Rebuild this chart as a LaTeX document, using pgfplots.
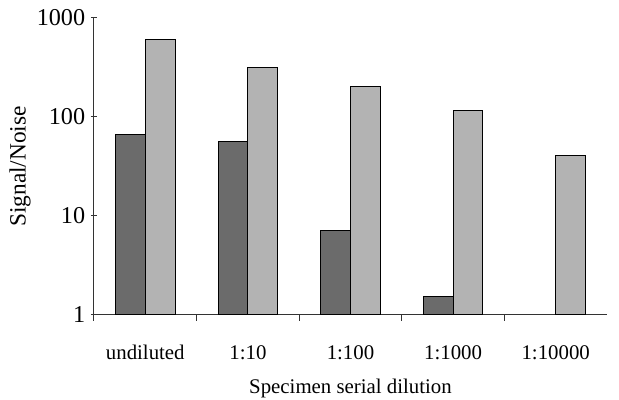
\documentclass[border=0pt]{standalone}
\usepackage{pgfplots}
\pgfplotsset{compat=1.18}
\usepackage{fontspec}
\setmainfont{Liberation Serif}
\definecolor{darkbar}{HTML}{6B6B6B}
\definecolor{lightbar}{HTML}{B3B3B3}
\definecolor{axisc}{HTML}{333333}

\begin{document}
\begin{tikzpicture}
  \useasboundingbox (-56.4pt,-51pt) rectangle (315pt,189pt);
  \begin{axis}[
      scale only axis, width=307.8pt, height=178.2pt,
      anchor=south west, at={(0,0)},
      ymode=log, ymin=1, ymax=1000, log origin=infty,
      ytick={1,10,100,1000}, yticklabels={1,10,100,1000},
      yminorticks=false,
      xmin=-0.5, xmax=4.5,
      xtick={0,1,2,3,4},
      xticklabels={undiluted,1:10,1:100,1:1000,1:10000},
      minor xtick={-0.5,0.5,1.5,2.5,3.5},
      major x tick style={draw=none},
      minor tick length=3.6pt, major tick length=3.6pt,
      tick align=outside, tick style={axisc, line width=0.6pt},
      axis x line=bottom, axis y line=left,
      axis line style={-, axisc, line width=0.6pt},
      ybar=0pt, bar width=0.29,
      /pgf/number format/assume math mode=true,
      xticklabel style={font=\fontsize{12.5}{15}\selectfont, yshift=-11pt},
      yticklabel style={font=\fontsize{14.5}{17}\selectfont},
      xlabel={Specimen serial dilution},
      ylabel={Signal/Noise},
      xlabel style={font=\fontsize{12.5}{15}\selectfont, at={(axis description cs:0.5,-0.246)}, anchor=center},
      ylabel style={font=\fontsize{14}{16}\selectfont, at={(axis description cs:-0.144,0.5)}, anchor=center},
      clip=false]
    % dark series, no bar at 1:10000
    \addplot[fill=darkbar, draw=black, line width=0.6pt] coordinates {(0,67) (1,56) (2,7.1) (3,1.52)};
    \addplot[fill=lightbar, draw=black, line width=0.6pt] coordinates {(0,600) (1,313) (2,205) (3,115) (4,41)};
  \end{axis}
\end{tikzpicture}
\end{document}
